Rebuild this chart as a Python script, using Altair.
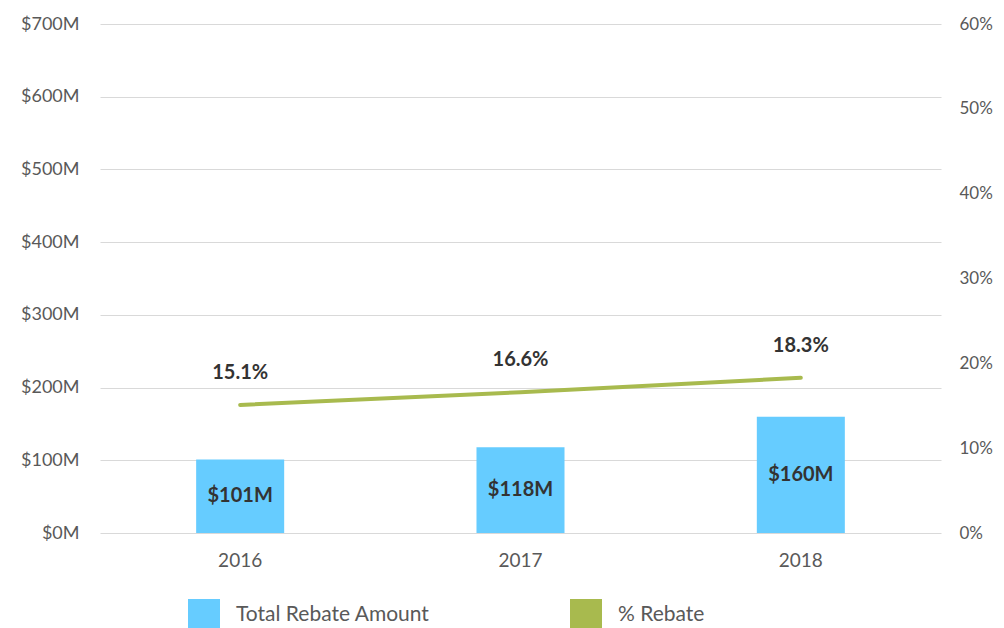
import altair as alt
import pandas as pd

years = ["2016", "2017", "2018"]
amounts = [101, 118, 160]
pcts = [15.1, 16.6, 18.3]
series = ["Total Rebate Amount", "% Rebate"]
colors = ["#66CCFF", "#A8BA4E"]

df = pd.DataFrame({"year": years, "amount": amounts, "pct": pcts})
df["series"] = series[0]
df["mid"] = df["amount"] / 2
df["amount_label"] = ["$" + str(a) + "M" for a in amounts]
df["pct_label"] = [f"{p:.1f}%" for p in pcts]

FONT = "Lato"
AX = 18

xenc = alt.X("year:N", title=None,
             scale=alt.Scale(paddingInner=0.686, paddingOuter=0.343),
             axis=alt.Axis(labelAngle=0, labelFontSize=19, labelColor="#595959",
                           labelPadding=18, ticks=False, domain=False, grid=False,
                           labelFont=FONT))

base = alt.Chart(df)

bars = base.mark_bar(color=colors[0]).encode(
    x=xenc,
    y=alt.Y("amount:Q", title=None,
            scale=alt.Scale(domain=[0, 700]),
            axis=alt.Axis(values=[0, 100, 200, 300, 400, 500, 600, 700],
                          labelExpr="'$' + datum.value + 'M'",
                          labelFontSize=AX, labelColor="#595959", labelPadding=21,
                          ticks=False, domain=False, gridColor="#d9d9d9",
                          labelFont=FONT)),
    fill=alt.Fill("series:N", title=None,
                  scale=alt.Scale(domain=series, range=colors),
                  legend=alt.Legend(orient="none", legendX=88, legendY=575,
                                    direction="horizontal", symbolType="square",
                                    symbolSize=1024, symbolStrokeWidth=0,
                                    labelFontSize=21, labelColor="#595959",
                                    labelFont=FONT, labelOffset=16,
                                    columnPadding=140, padding=0, labelLimit=400)),
)

bar_text = base.mark_text(fontSize=20, fontWeight="bold", color="#333333",
                          font=FONT, baseline="middle").encode(
    x=alt.X("year:N"),
    y=alt.Y("mid:Q"),
    text="amount_label:N",
)

line = base.mark_line(color=colors[1], strokeWidth=4, strokeCap="round").encode(
    x=alt.X("year:N"),
    y=alt.Y("pct:Q", title=None,
            scale=alt.Scale(domain=[0, 60]),
            axis=alt.Axis(orient="right", values=[0, 10, 20, 30, 40, 50, 60],
                          labelExpr="datum.value + '%'",
                          labelFontSize=17, labelColor="#595959", labelPadding=18,
                          ticks=False, domain=False, grid=False, labelFont=FONT)),
)

line_text = base.mark_text(fontSize=20, fontWeight="bold", color="#333333",
                           font=FONT, baseline="middle", dy=-32).encode(
    x=alt.X("year:N"),
    y=alt.Y("pct:Q"),
    text="pct_label:N",
)

chart = alt.layer(
    alt.layer(bars, bar_text),
    alt.layer(line, line_text),
).resolve_scale(y="independent").properties(
    width=841, height=509,
    autosize=alt.AutoSizeParams(type="none"),
    padding={"left": 92, "top": 16, "right": 55, "bottom": 95},
).configure_view(stroke=None)

chart.save("out.html", embed_options={"renderer": "svg", "actions": False})
